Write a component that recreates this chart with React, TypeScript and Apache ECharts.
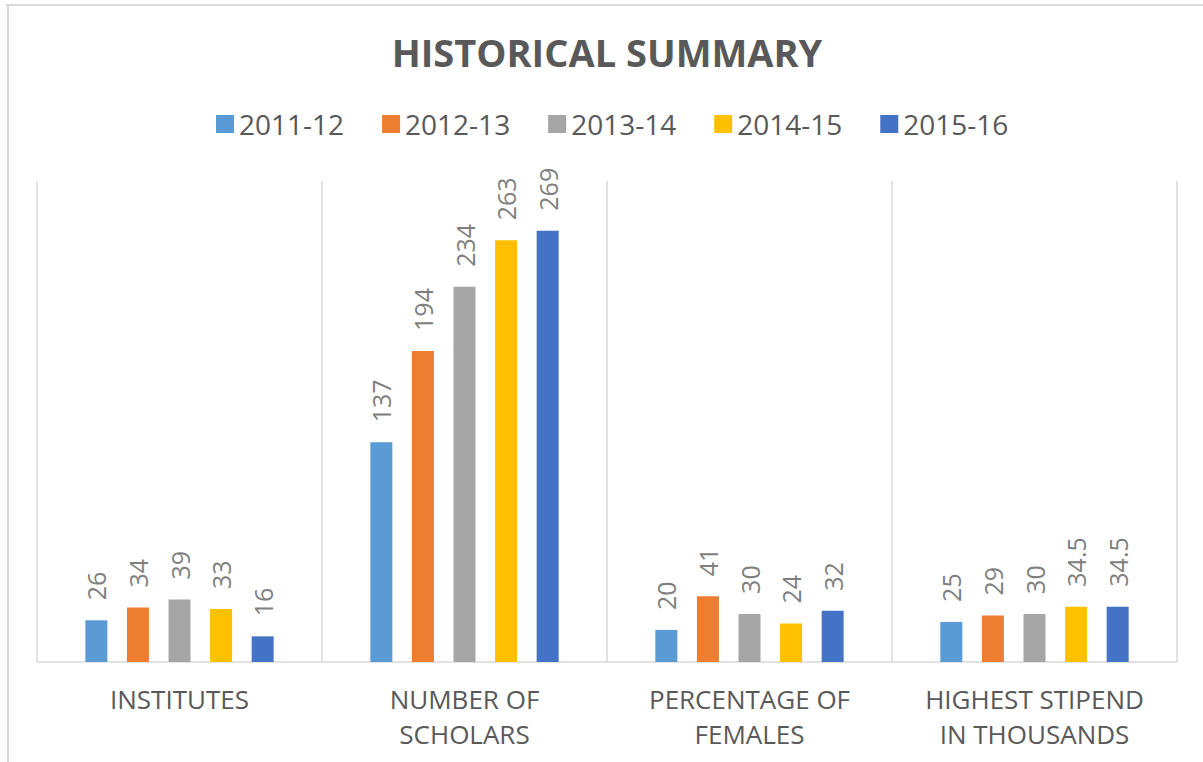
import React, { useEffect, useRef } from "react";
import * as echarts from "echarts";

const categories = [
  "INSTITUTES",
  "NUMBER OF\nSCHOLARS",
  "PERCENTAGE OF\nFEMALES",
  "HIGHEST STIPEND\nIN THOUSANDS",
];
const seriesNames = ["2011-12", "2012-13", "2013-14", "2014-15", "2015-16"];
const colors = ["#5B9BD5", "#ED7D31", "#A5A5A5", "#FFC000", "#4472C4"];
const v2011 = [26, 137, 20, 25];
const v2012 = [34, 194, 41, 29];
const v2013 = [39, 234, 30, 30];
const v2014 = [33, 263, 24, 34.5];
const v2015 = [16, 269, 32, 34.5];
const allValues = [v2011, v2012, v2013, v2014, v2015];

const FONT = "'Open Sans', 'Noto Sans', sans-serif";

export default function App() {
  const ref = useRef<HTMLDivElement>(null);
  useEffect(() => {
    if (!ref.current) return;
    const chart = echarts.init(ref.current, null, { renderer: "svg" });
    chart.setOption({
      animation: false,
      backgroundColor: "#ffffff",
      color: colors,
      title: {
        text: "HISTORICAL SUMMARY",
        left: "center",
        top: 28,
        textStyle: {
          fontFamily: FONT,
          fontWeight: "bold",
          fontSize: 38,
          color: "#595959",
        },
      },
      legend: {
        data: seriesNames,
        left: 205,
        top: 105,
        icon: "rect",
        itemWidth: 18,
        itemHeight: 18,
        itemGap: 38,
        textStyle: { fontFamily: FONT, fontSize: 28, color: "#595959" },
      },
      grid: { left: 31, right: 31, top: 181, bottom: 100 },
      xAxis: {
        type: "category",
        data: categories,
        axisLine: { show: true, lineStyle: { color: "#D9D9D9", width: 1.5 } },
        axisTick: { show: false },
        splitLine: { show: true, lineStyle: { color: "#D9D9D9", width: 1.5 } },
        axisLabel: {
          fontFamily: FONT,
          fontSize: 26,
          color: "#595959",
          lineHeight: 35,
          margin: 19,
          interval: 0,
        },
      },
      yAxis: {
        type: "value",
        min: 0,
        max: 300,
        show: false,
        splitLine: { show: false },
      },
      series: seriesNames.map((name, i) => ({
        name,
        type: "bar",
        data: allValues[i],
        barWidth: 22,
        barGap: "89%",
        itemStyle: { color: colors[i] },
        label: {
          show: true,
          position: "top",
          rotate: 90,
          align: "left",
          verticalAlign: "middle",
          distance: 20,
          fontFamily: FONT,
          fontSize: 25,
          color: "#7F7F7F",
        },
      })),
      graphic: [
        {
          type: "line",
          shape: { x1: 0, y1: 5, x2: 1210, y2: 5 },
          style: { stroke: "#D9D9D9", lineWidth: 2 },
        },
        {
          type: "line",
          shape: { x1: 2, y1: 5, x2: 2, y2: 770 },
          style: { stroke: "#D9D9D9", lineWidth: 2 },
        },
      ],
    });
    return () => chart.dispose();
  }, []);
  return (
    <div
      style={{
        position: "absolute",
        left: 0,
        top: 0,
        width: 1203,
        height: 762,
        overflow: "hidden",
        background: "#fff",
      }}
    >
      <div
        ref={ref}
        style={{ position: "absolute", left: 6, top: 0, width: 1202, height: 762 }}
      />
    </div>
  );
}
